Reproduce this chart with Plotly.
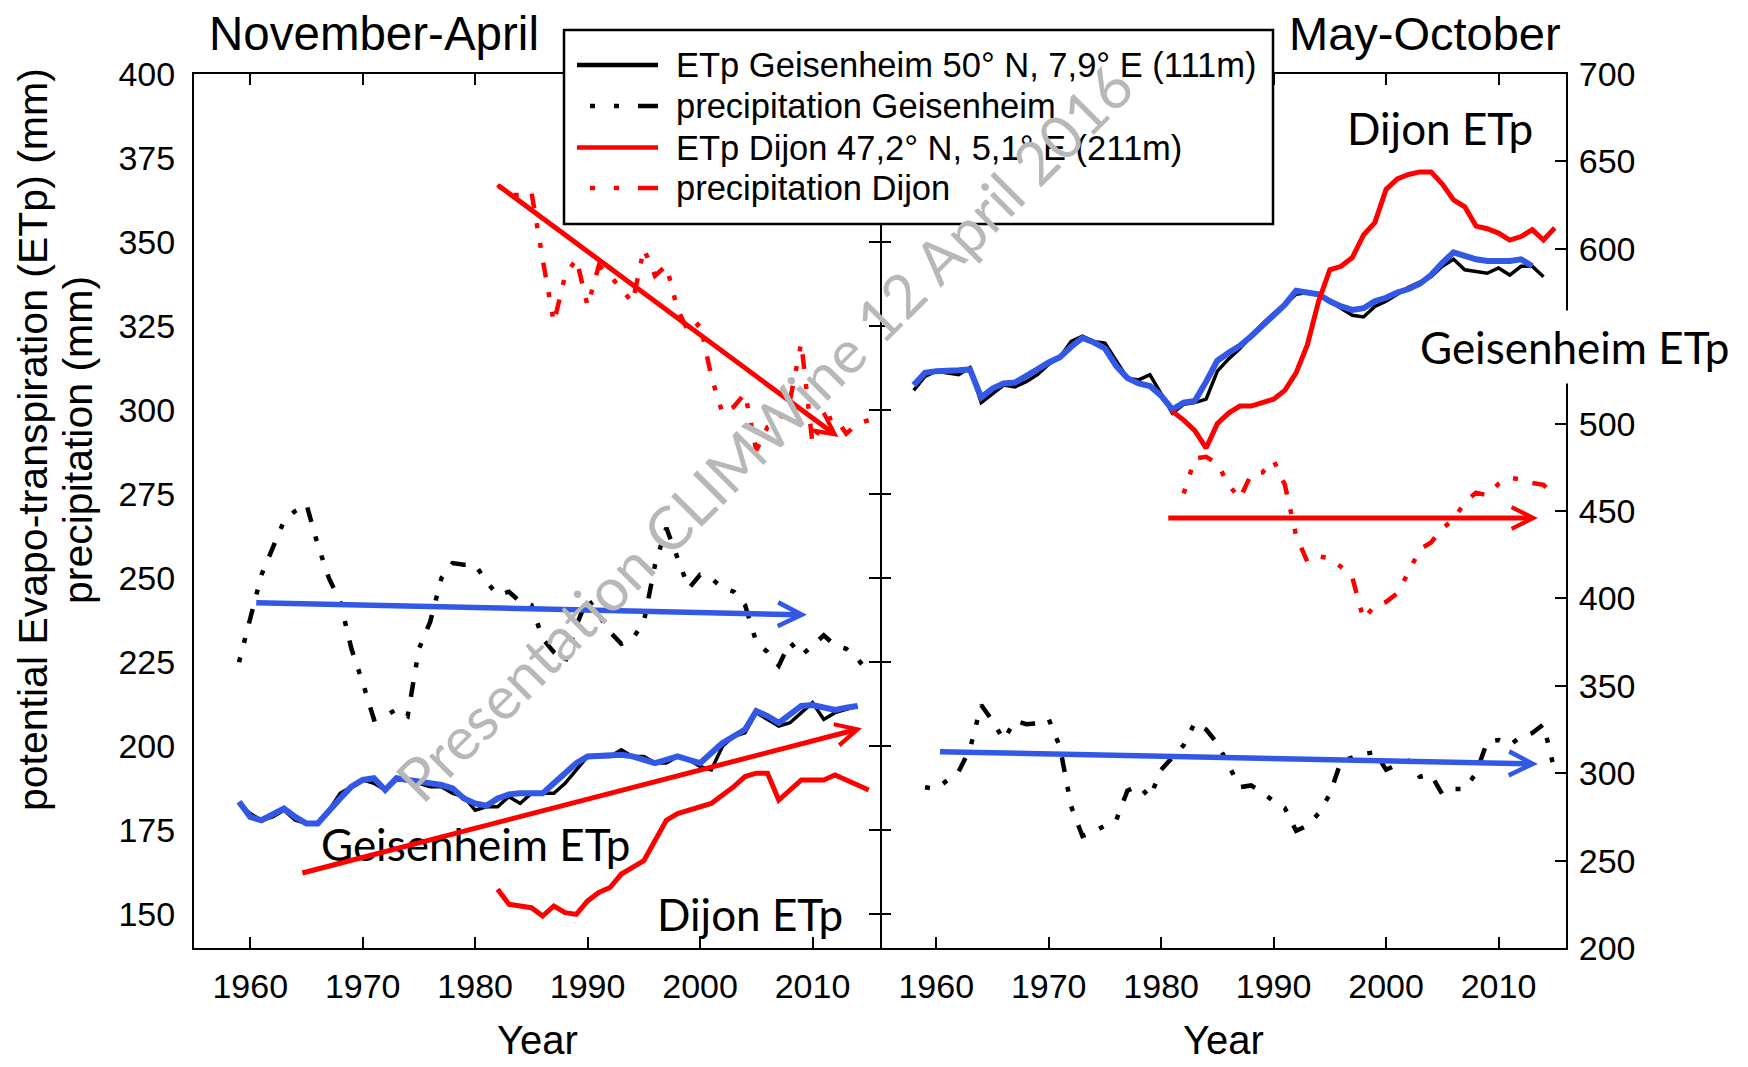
import plotly.graph_objects as go

# ---------------- data ----------------
# November-April (left panel, left axis)
win_geis_years = list(range(1959, 2015))
win_geis_etp = [183, 180, 178, 179, 181, 178, 177, 177, 181, 186,
                188, 190, 189, 187, 190, 190, 189, 188, 188, 186,
                185, 181, 182, 182, 185, 183, 186, 186, 186, 189,
                193, 197, 197, 197, 199, 197, 197, 195, 195, 197,
                196, 194, 193, 200, 203, 204, 210, 208, 206, 207,
                210, 213, 208, 210, 211, 212]
win_geis_etp_smooth = [183.5, 179, 178, 180, 181.5, 179, 177, 177, 181, 184.5,
                       188, 190, 190.5, 187, 190.5, 190, 189.5, 189, 188.5, 187.5,
                       184.5, 183, 182.3, 184.5, 185.7, 186, 186, 186, 189, 192,
                       195, 197, 197.3, 197.5, 197.5, 197, 196, 195, 196, 197,
                       196, 195, 198, 201, 203, 205, 210.5, 209, 207, 209.5,
                       212, 212.3, 211.5, 210.8, 211.5, 212]
win_geis_prec_years = list(range(1959, 2016))
win_geis_prec = [225, 238, 251, 259, 267, 270, 272, 260, 250, 243,
                 229, 219, 208, 209, 211, 209, 229, 237, 250, 254.5,
                 254, 254, 249, 245, 246, 243, 242, 232, 228, 225,
                 236, 244, 239, 234, 230.5, 232, 237, 254, 265, 256,
                 247, 251, 250, 247, 246, 242, 231, 228, 224, 231,
                 227, 230, 233, 230, 229, 226, 222]
win_dijon_years = list(range(1982, 2016))
win_dijon_etp = [157.5, 153, 152.5, 152, 149.5, 152.5, 150.5, 150, 154, 156.5,
                 158, 162, 164, 166, 172, 178, 180, 181, 182, 183,
                 185.5, 188, 191, 192, 192, 184, 187, 190, 190, 190,
                 191.5, 190, 188.5, 187]
win_dijon_prec = [367, 364, 364, 365, 345, 326, 340, 345, 331, 343,
                  340, 336, 332, 348, 340, 343, 330, 323, 326, 310,
                  299, 301, 305, 288, 295, 297, 303, 320, 290, 297,
                  298, 293, 296, 297]

# May-October (right panel, right axis)
sum_geis_years = list(range(1958, 2015))
sum_geis_etp = [519, 527, 530, 529, 528, 532, 512, 517, 522, 521,
                524, 528, 534, 538, 547, 550, 547, 546, 536, 526,
                525, 528, 517, 506, 511, 512, 514, 530, 537, 543,
                550, 557, 563, 568, 574, 575, 574, 570, 566, 562,
                561, 567, 570, 574, 578, 581, 584, 590, 594, 588,
                587, 586, 589, 585, 590, 590, 584]
sum_geis_smooth_years = list(range(1958, 2014))
sum_geis_etp_smooth = [522, 529, 530, 530, 530.5, 531, 515, 520, 523, 523.5,
                       527, 531, 535, 538, 544, 549, 546.5, 543, 533, 526,
                       523, 521.5, 516, 508, 512, 513, 524, 536, 540.5, 544.5,
                       550, 556, 562, 568, 576, 575, 574, 570, 567, 565,
                       566, 570, 572, 575, 577, 580, 585, 592, 598, 596,
                       594, 593, 593, 593, 594, 590]
sum_geis_prec_years = list(range(1959, 2016))
sum_geis_prec = [292, 291, 296, 301, 314, 339, 330, 319, 330, 328,
                 328.5, 331, 315, 281, 264, 266.5, 270, 273, 290, 293,
                 286, 302, 309, 316, 329, 325, 317, 305, 292, 293,
                 289, 284, 280, 267, 270, 277, 288, 307, 309, 311,
                 312, 302, 305, 307, 298, 299, 288, 291, 291, 300,
                 318, 319, 316, 321, 323, 328, 301]
sum_dijon_etp_years = list(range(1981, 2016))
sum_dijon_etp = [507, 502, 496, 486, 500, 506, 510, 510, 512, 514,
                 519, 529, 545, 570, 588, 590, 595, 608, 615, 634,
                 640, 642.5, 644, 644, 637, 628, 624, 613, 611.5, 609,
                 605, 607, 611, 605, 612]
sum_dijon_prec_years = list(range(1982, 2016))
sum_dijon_prec = [460, 480, 481, 477, 465, 457, 471, 472, 479, 465,
                  436, 421, 424, 423, 418, 412, 388, 396, 398, 403,
                  415, 428, 432, 440, 445, 455, 460.5, 459, 465.5, 469,
                  468, 466, 465, 458]

# trend arrows: [x_tail, y_tail, x_head, y_head]
win_trend_dijon_prec = [1982.0, 367.0, 2012.3, 292.0]
win_trend_geis_prec = [1960.4, 242.7, 2009.5, 239.1]
win_trend_etp = [1964.5, 162.2, 2014.4, 205.4]
sum_trend_dijon_prec = [1980.5, 446.0, 2013.5, 446.0]
sum_trend_geis_prec = [1960.2, 312.3, 2013.5, 305.3]

# tick values
x_ticks = [1960, 1970, 1980, 1990, 2000, 2010]
left_ticks = [150, 175, 200, 225, 250, 275, 300, 325, 350, 375, 400]
right_ticks = [200, 250, 300, 350, 400, 450, 500, 600, 650, 700]

# ---------------- styling ----------------
W, H = 1748, 1067
ML, MR, MT, MB = 194, 182, 74, 119
PW, PH = W - ML - MR, H - MT - MB


def P(px):
    return (px - ML) / PW


def Q(py):
    return 1 - (py - MT) / PH


BLACK = "#000000"
RED = "#ff0000"
BLUE = "#3358e6"
GREY = "#b8b8b8"
AX_FONT = "Liberation Sans, Arial, sans-serif"
LBL_FONT = "Lato, Open Sans, sans-serif"
PREC_DASH = "5px,15px,5px,15px,15px,15px"

fig = go.Figure()

# left panel
fig.add_trace(go.Scatter(x=win_geis_prec_years, y=win_geis_prec, mode="lines",
                         line=dict(color=BLACK, width=4.5, dash=PREC_DASH),
                         xaxis="x", yaxis="y"))
fig.add_trace(go.Scatter(x=win_dijon_years, y=win_dijon_prec, mode="lines",
                         line=dict(color=RED, width=4.5, dash=PREC_DASH),
                         xaxis="x", yaxis="y"))
fig.add_trace(go.Scatter(x=win_geis_years, y=win_geis_etp, mode="lines",
                         line=dict(color=BLACK, width=3.5), xaxis="x", yaxis="y"))
fig.add_trace(go.Scatter(x=win_geis_years, y=win_geis_etp_smooth, mode="lines",
                         line=dict(color=BLUE, width=6), xaxis="x", yaxis="y"))
fig.add_trace(go.Scatter(x=win_dijon_years, y=win_dijon_etp, mode="lines",
                         line=dict(color=RED, width=5), xaxis="x", yaxis="y"))

# right panel
fig.add_trace(go.Scatter(x=sum_geis_prec_years, y=sum_geis_prec, mode="lines",
                         line=dict(color=BLACK, width=4.5, dash=PREC_DASH),
                         xaxis="x2", yaxis="y2"))
fig.add_trace(go.Scatter(x=sum_dijon_prec_years, y=sum_dijon_prec, mode="lines",
                         line=dict(color=RED, width=4.5, dash=PREC_DASH),
                         xaxis="x2", yaxis="y2"))
fig.add_trace(go.Scatter(x=sum_geis_years, y=sum_geis_etp, mode="lines",
                         line=dict(color=BLACK, width=3.5), xaxis="x2", yaxis="y2"))
fig.add_trace(go.Scatter(x=sum_geis_smooth_years, y=sum_geis_etp_smooth, mode="lines",
                         line=dict(color=BLUE, width=6), xaxis="x2", yaxis="y2"))
fig.add_trace(go.Scatter(x=sum_dijon_etp_years, y=sum_dijon_etp, mode="lines",
                         line=dict(color=RED, width=5), xaxis="x2", yaxis="y2"))

# invisible traces that activate the shared middle border axes (left-scale ticks)
fig.add_trace(go.Scatter(x=win_geis_years, y=win_geis_etp, mode="lines", opacity=0,
                         hoverinfo="skip", xaxis="x", yaxis="y3"))
fig.add_trace(go.Scatter(x=sum_geis_years, y=win_geis_etp, mode="lines", opacity=0,
                         hoverinfo="skip", xaxis="x2", yaxis="y4"))

tickfont = dict(family=AX_FONT, size=34, color=BLACK)
xcommon = dict(range=[1955, 2016], tickmode="array", tickvals=x_ticks,
               ticks="inside", ticklen=11, tickwidth=2, tickcolor=BLACK,
               showline=True, linecolor=BLACK, linewidth=2, mirror="ticks",
               showgrid=False, zeroline=False, tickfont=tickfont, ticklabelstandoff=7)
mid = dict(range=[140, 400], tickmode="array", tickvals=left_ticks,
           ticks="inside", ticklen=11, tickwidth=2, tickcolor=BLACK, showticklabels=False,
           linecolor=BLACK, linewidth=2, showgrid=False, zeroline=False)

fig.update_layout(
    width=W, height=H,
    margin=dict(l=ML, r=MR, t=MT, b=MB),
    paper_bgcolor="white", plot_bgcolor="white",
    showlegend=False,
    xaxis=dict(domain=[0, 0.5], anchor="y", **xcommon),
    xaxis2=dict(domain=[0.5, 1], anchor="y2", **xcommon),
    yaxis=dict(domain=[0, 1], anchor="x", range=[140, 400], tickmode="array", tickvals=left_ticks,
               ticks="", showline=True, linecolor=BLACK, linewidth=2,
               showgrid=False, zeroline=False, tickfont=tickfont, ticklabelstandoff=10),
    yaxis3=dict(overlaying="y", anchor="x", side="right", showline=True, **mid),
    yaxis2=dict(domain=[0, 1], anchor="x2", side="right", range=[200, 700],
                tickmode="array", tickvals=right_ticks,
                ticks="inside", ticklen=11, tickwidth=2, tickcolor=BLACK,
                showline=True, linecolor=BLACK, linewidth=2,
                showgrid=False, zeroline=False, tickfont=tickfont, ticklabelstandoff=4),
    yaxis4=dict(overlaying="y2", anchor="x2", side="left", showline=False, **mid),
)

ann = []


def txt(text, px, py, size, family=AX_FONT, xanchor="center", angle=0, color=BLACK, **kw):
    ann.append(dict(text=text, xref="paper", yref="paper", x=P(px), y=Q(py),
                    xanchor=xanchor, yanchor="middle", showarrow=False, textangle=angle,
                    font=dict(family=family, size=size, color=color), **kw))


# titles & axis titles
txt("November-April", 374, 33, 47.5)
txt("May-October", 1425, 33, 47)
txt("Year", 537, 1040, 40)
txt("Year", 1223, 1040, 40)
txt("potential Evapo-transpiration (ETp) (mm)", 33, 440, 41, angle=-90)
txt("precipitation (mm)", 78, 440, 41, angle=-90)

# series labels
txt("Geisenheim ETp", 476, 844, 44, family=LBL_FONT)
txt("Dijon ETp", 750, 914, 44, family=LBL_FONT)
txt("Dijon ETp", 1440, 128, 44, family=LBL_FONT)
txt("Geisenheim ETp", 1575, 347, 44, family=LBL_FONT, bgcolor="white", borderpad=10)


def arrow(tr, color, width, xr, yr):
    ann.append(dict(x=tr[2], y=tr[3], ax=tr[0], ay=tr[1], xref=xr, yref=yr,
                    axref=xr, ayref=yr, text="", showarrow=True, arrowhead=5,
                    arrowsize=0.85, arrowwidth=width, arrowcolor=color, standoff=0))


arrow(win_trend_dijon_prec, RED, 5, "x", "y")
arrow(win_trend_geis_prec, BLUE, 5.5, "x", "y")
arrow(win_trend_etp, RED, 5, "x", "y")
arrow(sum_trend_dijon_prec, RED, 5, "x2", "y2")
arrow(sum_trend_geis_prec, BLUE, 5.5, "x2", "y2")

# custom legend box
shapes = [dict(type="rect", xref="paper", yref="paper", x0=P(564), x1=P(1273),
               y0=Q(224), y1=Q(30), fillcolor="white", line=dict(color=BLACK, width=2.5),
               layer="above")]
leg_rows = [65, 106, 147.5, 188]
leg_text = ["ETp Geisenheim 50° N, 7,9° E (111m)", "precipitation Geisenheim",
            "ETp Dijon 47,2° N, 5,1° E (211m)", "precipitation Dijon"]
leg_style = [(BLACK, "solid"), (BLACK, "5px,19px,5px,19px,21px,19px"),
             (RED, "solid"), (RED, "5px,19px,5px,19px,21px,19px")]
for ry, t, (c, d) in zip(leg_rows, leg_text, leg_style):
    x_start = 577 if d == "solid" else 590
    shapes.append(dict(type="line", xref="paper", yref="paper", x0=P(x_start), x1=P(658),
                       y0=Q(ry), y1=Q(ry), line=dict(color=c, width=4.5, dash=d), layer="above"))
    txt(t, 674, ry, 34.5, xanchor="left")

# watermark
txt("Presentation CLIMWine 12 April 2016", 764, 432, 60, family=LBL_FONT, angle=-45, color=GREY)

fig.update_layout(annotations=ann, shapes=shapes)
fig.write_html("out.html")
